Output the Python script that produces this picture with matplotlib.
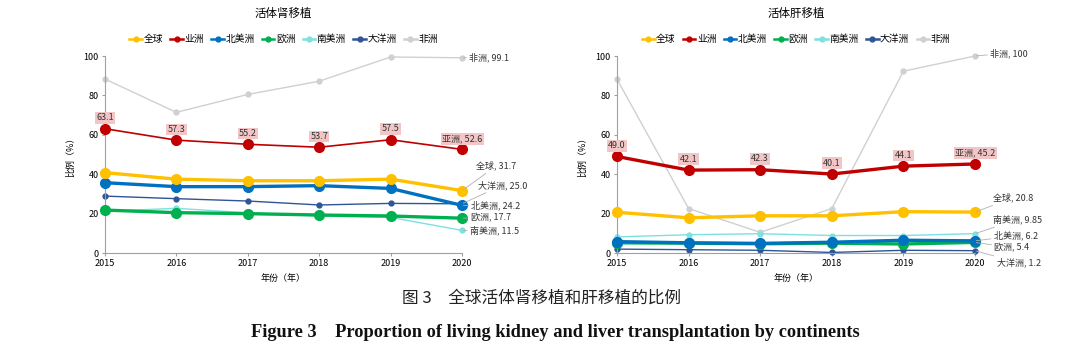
import matplotlib
matplotlib.use("Agg")
import matplotlib.pyplot as plt

plt.rcParams['font.family'] = ['Noto Sans CJK SC', 'DejaVu Sans']
plt.rcParams['axes.unicode_minus'] = False

years = [2015, 2016, 2017, 2018, 2019, 2020]
regions = ['全球', '业洲', '北美洲', '欧洲', '南美洲', '大洋洲', '非洲']

# 活体肾移植 (%)
kidney_global = [40.8, 37.5, 36.7, 36.7, 37.5, 31.7]
kidney_asia = [63.1, 57.3, 55.2, 53.7, 57.5, 52.6]
kidney_namerica = [35.7, 33.7, 33.7, 34.2, 32.8, 24.2]
kidney_europe = [21.8, 20.5, 20.0, 19.3, 18.8, 17.7]
kidney_samerica = [21.2, 22.7, 20.4, 18.8, 18.1, 11.5]
kidney_oceania = [28.9, 27.6, 26.4, 24.4, 25.2, 25.0]
kidney_africa = [88.3, 71.4, 80.5, 87.2, 99.5, 99.1]

# 活体肝移植 (%)
liver_global = [20.7, 17.9, 18.9, 18.9, 21.0, 20.8]
liver_asia = [49.0, 42.1, 42.3, 40.1, 44.1, 45.2]
liver_namerica = [5.8, 5.2, 4.9, 5.5, 6.5, 6.2]
liver_europe = [5.2, 5.0, 4.7, 5.0, 4.6, 5.4]
liver_samerica = [8.2, 9.3, 9.8, 8.9, 8.9, 9.85]
liver_oceania = [2.0, 1.7, 1.4, 0.3, 1.4, 1.2]
liver_africa = [88.2, 22.6, 10.5, 22.6, 92.3, 100]

# end labels
kidney_end_names = ['非洲', '全球', '大洋洲', '北美洲', '欧洲', '南美洲']
kidney_end_values = ['99.1', '31.7', '25.0', '24.2', '17.7', '11.5']
liver_end_names = ['非洲', '全球', '南美洲', '北美洲', '欧洲', '大洋洲']
liver_end_values = ['100', '20.8', '9.85', '6.2', '5.4', '1.2']

# style per region: color, linewidth, markersize
styles = {
    '全球': ('#FFC000', 2.4, 7),
    '业洲': ('#C00000', 1.6, 7),
    '北美洲': ('#0070C0', 2.4, 7),
    '欧洲': ('#00B050', 2.4, 7),
    '南美洲': ('#7FE0E0', 1.0, 3.5),
    '大洋洲': ('#2F5597', 1.0, 3.5),
    '非洲': ('#D0D0D0', 1.0, 3.5),
}
draw_order = ['非洲', '大洋洲', '南美洲', '欧洲', '北美洲', '全球', '业洲']

fig = plt.figure(figsize=(10.8, 3.5), dpi=100)
ax1 = fig.add_axes([0.0972, 0.277, 0.3306, 0.563])
ax2 = fig.add_axes([0.5713, 0.277, 0.3315, 0.563])


def draw_panel(ax, title, series, asia_lw, end_names, end_values, label_pos):
    for name in draw_order:
        col, lw, ms = styles[name]
        if name == '业洲':
            lw = asia_lw
        z = 3 if name in ('全球', '业洲', '北美洲', '欧洲') else 2
        ax.plot(years, series[name], color=col, lw=lw, marker='o', ms=ms,
                zorder=z, clip_on=False)
    # legend in original order
    handles = []
    for name in regions:
        col, lw, ms = styles[name]
        h, = ax.plot([], [], color=col, lw=1.8, marker='o', ms=3.5)
        handles.append(h)
    ax.legend(handles, regions, ncol=7, loc='lower center',
              bbox_to_anchor=(0.5, 1.015), frameon=False, fontsize=7,
              handlelength=1.3, handletextpad=0.15, columnspacing=0.75)
    ax.set_title(title, fontsize=8.3, pad=28)
    ax.set_xlim(2015, 2020)
    ax.set_ylim(0, 100)
    ax.set_xticks(years)
    ax.set_yticks([0, 20, 40, 60, 80, 100])
    ax.tick_params(labelsize=6.5, length=2.5, color='#A0A0A0', pad=2)
    for s in ['top', 'right']:
        ax.spines[s].set_visible(False)
    for s in ['left', 'bottom']:
        ax.spines[s].set_color('#A0A0A0')
        ax.spines[s].set_linewidth(0.8)
    ax.set_ylabel('比例（%）', fontsize=6.5, labelpad=6)
    ax.set_xlabel('年份（年）', fontsize=6.5, labelpad=4)

    # Asia data labels with pink boxes
    asia = series['业洲']
    for i, (yr, v) in enumerate(zip(years, asia)):
        txt = f'{v:.1f}' if i < len(years) - 1 else f'亚洲, {v:.1f}'
        ax.annotate(txt, (yr, v), xytext=(0, 4.5), textcoords='offset points',
                    ha='center', va='bottom', fontsize=6.5, color='#333333',
                    bbox=dict(boxstyle='square,pad=0.15', fc='#F2C6C6', ec='none'),
                    annotation_clip=False, zorder=5)

    # end labels with leader lines
    for nm, val, (dx, ly) in zip(end_names, end_values, label_pos):
        yv = float(val)
        ax.annotate(f'{nm}, {val}', (2020, yv), xytext=(2020 + dx, ly),
                    textcoords='data', ha='left', va='center', fontsize=6.5,
                    color='#333333', annotation_clip=False,
                    arrowprops=dict(arrowstyle='-', color='#B0B0B0', lw=0.6,
                                    shrinkA=0, shrinkB=1,
                                    connectionstyle='arc3,rad=0.0'))


kidney = {'全球': kidney_global, '业洲': kidney_asia, '北美洲': kidney_namerica,
          '欧洲': kidney_europe, '南美洲': kidney_samerica, '大洋洲': kidney_oceania,
          '非洲': kidney_africa}
liver = {'全球': liver_global, '业洲': liver_asia, '北美洲': liver_namerica,
         '欧洲': liver_europe, '南美洲': liver_samerica, '大洋洲': liver_oceania,
         '非洲': liver_africa}

draw_panel(ax1, '活体肾移植', kidney, 1.2, kidney_end_names, kidney_end_values,
           [(0.1, 99.5), (0.2, 44.2), (0.22, 34.5), (0.13, 24.2), (0.12, 17.8), (0.11, 11.7)])
draw_panel(ax2, '活体肝移植', liver, 2.4, liver_end_names, liver_end_values,
           [(0.21, 101.5), (0.25, 28.0), (0.25, 17.0), (0.26, 8.8), (0.27, 2.7), (0.3, -4.9)])

fig.text(0.501, 0.148, '图 3　全球活体肾移植和肝移植的比例', ha='center', va='center',
         fontsize=12, color='#222222')
fig.text(0.514, 0.051, 'Figure 3    Proportion of living kidney and liver transplantation by continents',
         ha='center', va='center', fontsize=13.2, fontweight='bold',
         family='Liberation Serif', color='#111111')

fig.savefig('out.png', dpi=100)
